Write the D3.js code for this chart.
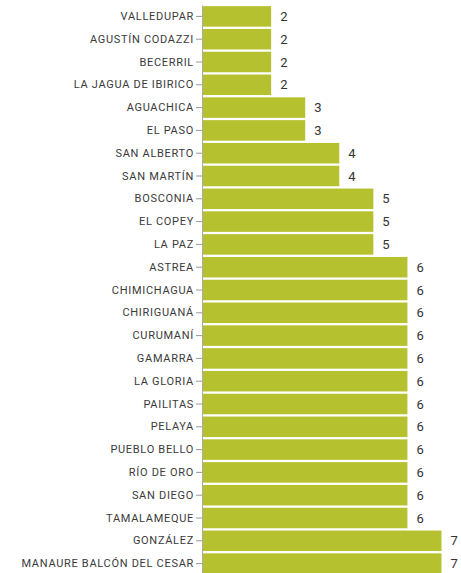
<!DOCTYPE html>
<html>
<head>
<meta charset="utf-8">
<script src="https://cdn.jsdelivr.net/npm/d3@7"></script>
<style>
  body { margin: 0; background: #fff; }
  text { font-family: Roboto, sans-serif; }
</style>
</head>
<body>
<div id="chart"></div>
<script>
// municipios y valores
var municipios = ["VALLEDUPAR", "AGUSTÍN CODAZZI", "BECERRIL", "LA JAGUA DE IBIRICO",
  "AGUACHICA", "EL PASO", "SAN ALBERTO", "SAN MARTÍN", "BOSCONIA", "EL COPEY", "LA PAZ",
  "ASTREA", "CHIMICHAGUA", "CHIRIGUANÁ", "CURUMANÍ", "GAMARRA", "LA GLORIA", "PAILITAS",
  "PELAYA", "PUEBLO BELLO", "RÍO DE ORO", "SAN DIEGO", "TAMALAMEQUE", "GONZÁLEZ",
  "MANAURE BALCÓN DEL CESAR"];
var valores = [2, 2, 2, 2, 3, 3, 4, 4, 5, 5, 5, 6, 6, 6, 6, 6, 6, 6, 6, 6, 6, 6, 6, 7, 7];

var width = 461, height = 573;

var svg = d3.select("#chart")
  .append("svg")
    .attr("width", width)
    .attr("height", height);

var x = d3.scaleLinear()
  .domain([0, 7])
  .range([203, 441.5]);

var y = d3.scaleBand()
  .domain(municipios)
  .range([5, 575])
  .paddingInner(0.1)
  .paddingOuter(0.05);

// eje y
var yAxis = svg.append("g")
  .attr("transform", "translate(202,0)")
  .call(d3.axisLeft(y).tickSize(6).tickPadding(2).tickSizeOuter(0));
yAxis.select(".domain").attr("stroke", "#aaa");
yAxis.selectAll(".tick line").attr("stroke", "#999");
yAxis.selectAll(".tick text")
  .attr("fill", "#3a3a3a")
  .style("font-size", "11px")
  .style("letter-spacing", "0.7px");

// barras
svg.selectAll("rect.bar")
  .data(municipios)
  .enter()
  .append("rect")
    .attr("class", "bar")
    .attr("x", x(0))
    .attr("y", function(d) { return y(d) })
    .attr("width", function(d, i) { return x(valores[i]) - x(0) })
    .attr("height", y.bandwidth())
    .style("fill", "#b5c12f");

// etiquetas de valor
svg.selectAll("text.val")
  .data(municipios)
  .enter()
  .append("text")
    .attr("class", "val")
    .attr("x", function(d, i) { return x(valores[i]) + 9 })
    .attr("y", function(d) { return y(d) + y.bandwidth() / 2 })
    .attr("dy", "0.35em")
    .attr("fill", "#333")
    .style("font-size", "13px")
    .text(function(d, i) { return valores[i] });
</script>
</body>
</html>
